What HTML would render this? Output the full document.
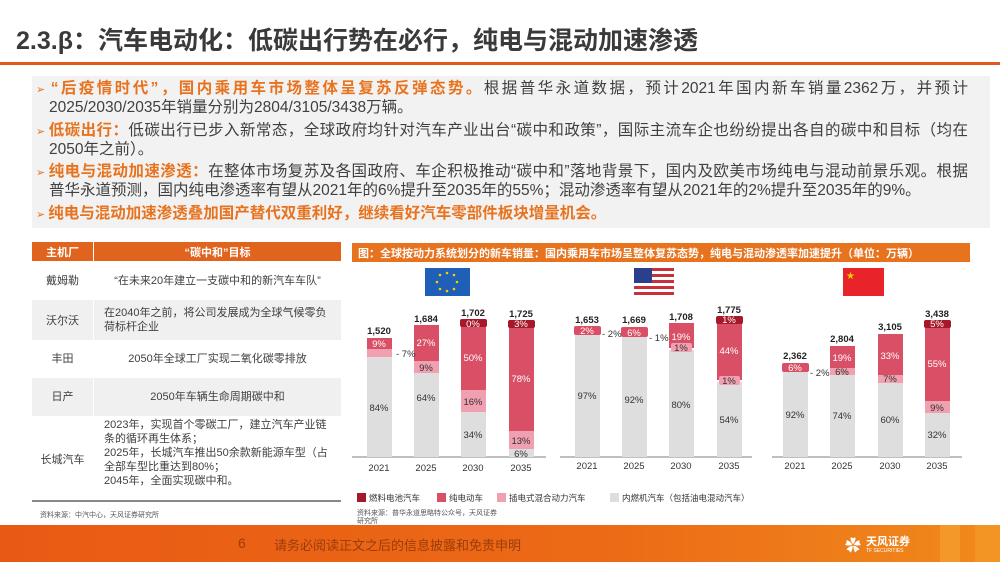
<!DOCTYPE html>
<html><head><meta charset="utf-8"><style>
*{margin:0;padding:0;box-sizing:border-box}
body{width:1000px;height:562px;overflow:hidden;background:#fff;font-family:"Liberation Sans","Noto Sans CJK SC",sans-serif;position:relative;color:#404040}
.a{position:absolute;white-space:nowrap}
.t{font-size:15.5px;line-height:19px;color:#404040}
.j{width:932px;text-align:justify;text-align-last:justify;white-space:normal;height:19px;overflow:hidden}
.o{color:#e8731e;font-weight:bold;font-size:15.5px}
.ar{color:#e8731e;font-size:11px}
</style></head><body>
<div class="a" style="left:16px;top:21px;font-size:25px;font-weight:bold;color:#3a3a3a">2.3.β：汽车电动化：低碳出行势在必行，纯电与混动加速渗透</div>
<div class="a" style="left:0;top:62px;width:1000px;height:3px;background:#e05a20"></div>
<div class="a" style="left:32px;top:76px;width:958px;height:152px;background:#f2f2f2"></div>
<div class="a t j" style="left:36px;top:79px"><span class="ar">➢ </span><span class="o">“后疫情时代”，国内乘用车市场整体呈复苏反弹态势。</span>根据普华永道数据，预计2021年国内新车销量2362万，并预计</div>
<div class="a t" style="left:49px;top:98px">2025/2030/2035年销量分别为2804/3105/3438万辆。</div>
<div class="a t j" style="left:36px;top:121px"><span class="ar">➢ </span><span class="o">低碳出行：</span>低碳出行已步入新常态，全球政府均针对汽车产业出台“碳中和政策”，国际主流车企也纷纷提出各自的碳中和目标（均在</div>
<div class="a t" style="left:49px;top:140px">2050年之前）。</div>
<div class="a t j" style="left:36px;top:162px"><span class="ar">➢ </span><span class="o">纯电与混动加速渗透：</span>在整体市场复苏及各国政府、车企积极推动“碳中和”落地背景下，国内及欧美市场纯电与混动前景乐观。根据</div>
<div class="a t" style="left:49px;top:181px">普华永道预测，国内纯电渗透率有望从2021年的6%提升至2035年的55%；混动渗透率有望从2021年的2%提升至2035年的9%。</div>
<div class="a t" style="left:36px;top:204px"><span class="ar">➢ </span><span class="o">纯电与混动加速渗透叠加国产替代双重利好，继续看好汽车零部件板块增量机会。</span></div>

<div class="a" style="left:32px;top:242px;width:309px;height:19px;background:#e0641e"></div>
<div class="a" style="left:93px;top:242px;width:1px;height:19px;background:#fff"></div>
<div class="a" style="left:32px;top:244px;width:61px;text-align:center;color:#fff;font-size:11px;font-weight:bold">主机厂</div>
<div class="a" style="left:94px;top:244px;width:247px;text-align:center;color:#fff;font-size:11px;font-weight:bold">“碳中和”目标</div>
<div class="a" style="left:32px;top:300px;width:309px;height:40px;background:#f0f0f0"></div>
<div class="a" style="left:32px;top:378px;width:309px;height:38px;background:#f0f0f0"></div>
<div class="a" style="left:93px;top:261px;width:1px;height:229px;background:#fff"></div>
<div class="a" style="font-size:11px;line-height:14px;left:32px;top:274px;width:61px;text-align:center">戴姆勒</div>
<div class="a" style="font-size:11px;line-height:14px;left:94px;top:274px;width:247px;text-align:center">“在未来20年建立一支碳中和的新汽车车队”</div>
<div class="a" style="font-size:11px;line-height:14px;left:32px;top:314px;width:61px;text-align:center">沃尔沃</div>
<div class="a" style="font-size:11px;line-height:14px;left:104px;top:306px">在2040年之前，将公司发展成为全球气候零负<br>荷标杆企业</div>
<div class="a" style="font-size:11px;line-height:14px;left:32px;top:352px;width:61px;text-align:center">丰田</div>
<div class="a" style="font-size:11px;line-height:14px;left:94px;top:352px;width:247px;text-align:center">2050年全球工厂实现二氧化碳零排放</div>
<div class="a" style="font-size:11px;line-height:14px;left:32px;top:390px;width:61px;text-align:center">日产</div>
<div class="a" style="font-size:11px;line-height:14px;left:94px;top:390px;width:247px;text-align:center">2050年车辆生命周期碳中和</div>
<div class="a" style="font-size:11px;line-height:14px;left:32px;top:453px;width:61px;text-align:center">长城汽车</div>
<div class="a" style="font-size:11px;line-height:14px;left:104px;top:418px">2023年，实现首个零碳工厂，建立汽车产业链<br>条的循环再生体系；<br>2025年，长城汽车推出50余款新能源车型（占<br>全部车型比重达到80%；<br>2045年，全面实现碳中和。</div>
<div class="a" style="left:32px;top:500px;width:309px;height:2px;background:#888"></div>
<div class="a" style="left:40px;top:510px;font-size:7px;color:#555">资料来源：中汽中心，天风证券研究所</div>

<div class="a" style="left:352px;top:243px;width:618px;height:19px;background:#e8731e;color:#fff;font-size:11px;font-weight:bold;padding:2px 0 0 6px">图：全球按动力系统划分的新车销量：国内乘用车市场呈整体复苏态势，纯电与混动渗透率加速提升（单位：万辆）</div>
<svg class="a" style="left:0;top:0" width="1000" height="562" font-family="Liberation Sans, sans-serif" font-size="10">
<rect x="425" y="268" width="45" height="28" fill="#1f5fb8"/>
<g fill="#f5d000"><circle cx="447" cy="273" r="1.3"/><circle cx="454" cy="275" r="1.3"/><circle cx="457" cy="282" r="1.3"/><circle cx="454" cy="289" r="1.3"/><circle cx="447" cy="291" r="1.3"/><circle cx="440" cy="289" r="1.3"/><circle cx="437" cy="282" r="1.3"/><circle cx="440" cy="275" r="1.3"/></g>
<g>
<rect x="634" y="268" width="40" height="28" fill="#fff"/>
<rect x="634" y="268" width="40" height="3" fill="#c8303a"/><rect x="634" y="274" width="40" height="3" fill="#c8303a"/><rect x="634" y="280" width="40" height="3" fill="#c8303a"/><rect x="634" y="286" width="40" height="3" fill="#c8303a"/><rect x="634" y="292" width="40" height="3" fill="#c8303a"/>
<rect x="634" y="268" width="18" height="15" fill="#2c3f8a"/>
</g>
<rect x="843" y="268" width="41" height="28" fill="#e8242a"/>
<text x="846" y="279" fill="#f5d000" font-size="10">★</text>
<g stroke="#999" stroke-width="1.2"><line x1="352" y1="457" x2="546" y2="457"/><line x1="560" y1="457" x2="752" y2="457"/><line x1="772" y1="457" x2="962" y2="457"/></g>
<g>
<rect x="367" y="357" width="25" height="100" fill="#dedede"/><rect x="367" y="349" width="25" height="8" fill="#f0a0b0"/><rect x="367" y="338" width="25" height="11" fill="#d94f65"/>
<rect x="414" y="373" width="25" height="84" fill="#dedede"/><rect x="414" y="361" width="25" height="12" fill="#f0a0b0"/><rect x="414" y="325" width="25" height="36" fill="#d94f65"/>
<rect x="461" y="412" width="25" height="45" fill="#dedede"/><rect x="461" y="390" width="25" height="22" fill="#f0a0b0"/><rect x="461" y="324" width="25" height="66" fill="#d94f65"/><rect x="460" y="319" width="27" height="8" rx="2" fill="#a5192a"/>
<rect x="509" y="449" width="25" height="8" fill="#dedede"/><rect x="509" y="431" width="25" height="18" fill="#f0a0b0"/><rect x="509" y="326" width="25" height="105" fill="#d94f65"/><rect x="508" y="320" width="27" height="8" rx="2" fill="#a5192a"/>
<rect x="575" y="331" width="25" height="126" fill="#dedede"/><rect x="574" y="326" width="27" height="9" rx="2" fill="#d94f65"/>
<rect x="622" y="337" width="25" height="120" fill="#dedede"/><rect x="621" y="327" width="27" height="10" rx="2" fill="#d94f65"/>
<rect x="669" y="350" width="25" height="107" fill="#dedede"/><rect x="669" y="323" width="25" height="25" fill="#d94f65"/><rect x="671" y="343" width="21" height="9" rx="2" fill="#f0a0b0"/>
<rect x="717" y="382" width="25" height="75" fill="#dedede"/><rect x="717" y="319" width="25" height="61" fill="#d94f65"/><rect x="719" y="376" width="21" height="9" rx="2" fill="#f0a0b0"/><rect x="716" y="316" width="27" height="8" rx="2" fill="#a5192a"/>
<rect x="783" y="371" width="25" height="86" fill="#dedede"/><rect x="782" y="363" width="27" height="9" rx="2" fill="#d94f65"/>
<rect x="830" y="375" width="25" height="82" fill="#dedede"/><rect x="830" y="368" width="25" height="7" fill="#f0a0b0"/><rect x="830" y="346" width="25" height="22" fill="#d94f65"/>
<rect x="878" y="383" width="25" height="74" fill="#dedede"/><rect x="878" y="375" width="25" height="8" fill="#f0a0b0"/><rect x="878" y="334" width="25" height="41" fill="#d94f65"/>
<rect x="925" y="413" width="25" height="44" fill="#dedede"/><rect x="925" y="401" width="25" height="12" fill="#f0a0b0"/><rect x="925" y="326" width="25" height="75" fill="#d94f65"/><rect x="924" y="320" width="27" height="8" rx="2" fill="#a5192a"/>
</g>
<g text-anchor="middle" fill="#333" font-size="9.5">
<text x="379" y="411">84%</text><text x="426" y="401">64%</text><text x="473" y="438">34%</text><text x="521" y="457">6%</text>
<text x="426" y="371">9%</text><text x="473" y="405">16%</text><text x="521" y="444">13%</text>
<text x="587" y="399">97%</text><text x="634" y="403">92%</text><text x="681" y="408">80%</text><text x="729" y="423">54%</text>
<text x="681" y="351">1%</text><text x="729" y="384">1%</text>
<text x="795" y="418">92%</text><text x="842" y="419">74%</text><text x="890" y="423">60%</text><text x="937" y="438">32%</text>
<text x="842" y="375">6%</text><text x="890" y="382">7%</text><text x="937" y="411">9%</text>
</g>
<g text-anchor="middle" fill="#fff" font-size="9.5">
<text x="379" y="347">9%</text><text x="426" y="346">27%</text><text x="473" y="361">50%</text><text x="473" y="327">0%</text><text x="521" y="382">78%</text><text x="521" y="327">3%</text>
<text x="587" y="334">2%</text><text x="634" y="336">6%</text><text x="681" y="340">19%</text><text x="729" y="354">44%</text><text x="729" y="323">1%</text>
<text x="795" y="371">6%</text><text x="842" y="361">19%</text><text x="890" y="359">33%</text><text x="937" y="367">55%</text><text x="937" y="327">5%</text>
</g>
<g fill="#333" font-size="9.5"><text x="396" y="357">- 7%</text><text x="602" y="337">- 2%</text><text x="649" y="341">- 1%</text><text x="810" y="376">- 2%</text></g>
<g text-anchor="middle" fill="#222" font-size="9.5" font-weight="bold">
<text x="379" y="334">1,520</text><text x="426" y="322">1,684</text><text x="473" y="316">1,702</text><text x="521" y="317">1,725</text>
<text x="587" y="323">1,653</text><text x="634" y="323">1,669</text><text x="681" y="320">1,708</text><text x="729" y="313">1,775</text>
<text x="795" y="359">2,362</text><text x="842" y="342">2,804</text><text x="890" y="330">3,105</text><text x="937" y="317">3,438</text>
</g>
<g text-anchor="middle" fill="#333" font-size="9.5">
<text x="379" y="471">2021</text><text x="426" y="471">2025</text><text x="473" y="471">2030</text><text x="521" y="471">2035</text>
<text x="587" y="469">2021</text><text x="634" y="469">2025</text><text x="681" y="469">2030</text><text x="729" y="469">2035</text>
<text x="795" y="469">2021</text><text x="842" y="469">2025</text><text x="890" y="469">2030</text><text x="937" y="469">2035</text>
</g>
<g font-size="8.5" fill="#333">
<rect x="357" y="493" width="9" height="9" fill="#a5192a"/><text x="369" y="501">燃料电池汽车</text>
<rect x="437" y="493" width="9" height="9" fill="#d94f65"/><text x="449" y="501">纯电动车</text>
<rect x="497" y="493" width="9" height="9" fill="#f0a0b0"/><text x="509" y="501">插电式混合动力汽车</text>
<rect x="610" y="493" width="9" height="9" fill="#dedede"/><text x="622" y="501">内燃机汽车（包括油电混动汽车）</text>
</g>
</svg>
<div class="a" style="left:357px;top:510px;font-size:7px;line-height:8px;color:#555">资料来源：普华永道思略特公众号，天风证券<br>研究所</div>

<div class="a" style="left:0;top:525px;width:1000px;height:37px;background:linear-gradient(90deg,#e85a14 0%,#ec6a16 60%,#f08a1c 100%)"></div>
<div class="a" style="left:940px;top:525px;width:20px;height:37px;background:#f5a030;opacity:.7"></div>
<div class="a" style="left:975px;top:525px;width:25px;height:37px;background:#f39a2a;opacity:.7"></div>
<div class="a" style="left:238px;top:535px;font-size:14px;color:#9a3c0c">6</div>
<div class="a" style="left:274px;top:535px;font-size:13px;color:#9a3c0c">请务必阅读正文之后的信息披露和免责申明</div>
<div class="a" style="left:845px;top:532px;font-size:16px;color:#fff">✿</div>
<div class="a" style="left:866px;top:533px;font-size:11px;font-weight:bold;color:#fff">天风证券</div>
<div class="a" style="left:866px;top:548px;font-size:5px;color:#fff">TF SECURITIES</div>
</body></html>
